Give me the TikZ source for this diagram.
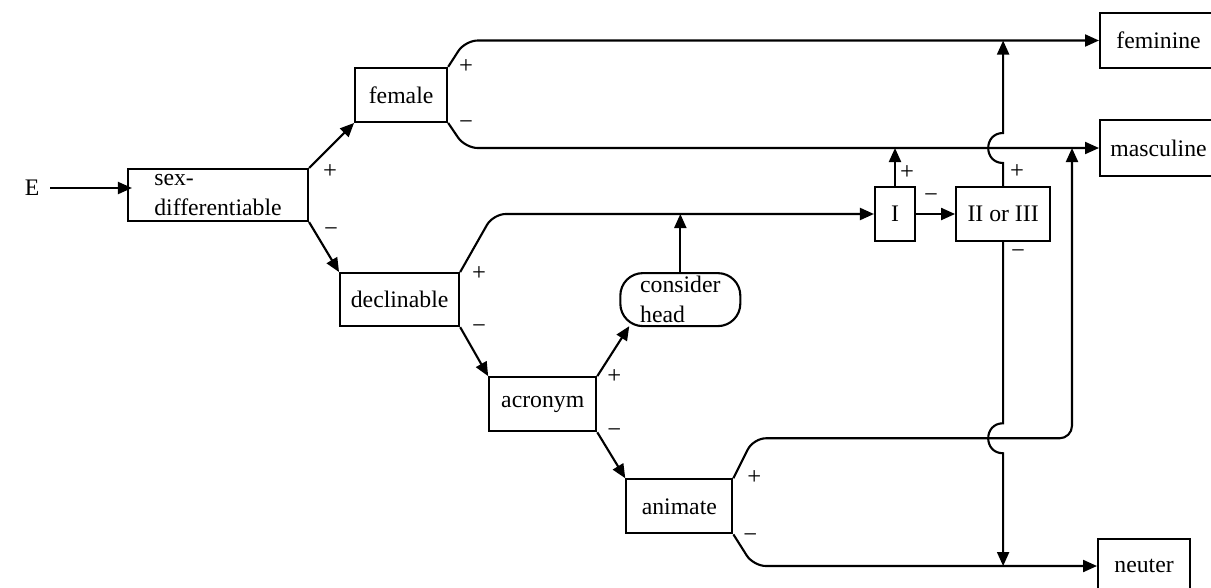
\documentclass[tikz,border=0pt]{standalone}
\usepackage{fontspec}
\setmainfont{Liberation Serif}
\usetikzlibrary{arrows.meta}
\usetikzlibrary{positioning}
\tikzstyle{rect} = [rectangle,
inner sep=0pt,
line width=1.2pt,
text centered,
font=\fontsize{13.5}{17}\selectfont,
draw=black]
\tikzstyle{rrect} = [rect,
rounded corners=0.45cm]
\tikzstyle{arrow} = [line width=1.2pt,->,>={Triangle[length=0.28cm,width=0.24cm]}]
\tikzstyle{line} = [line width=1.2pt]
\tikzstyle{sign} = [inner sep=0pt, font=\fontsize{14}{16}\selectfont]

\begin{document}
\begin{tikzpicture}[]

\useasboundingbox (0,0) rectangle (24.22,-11.74);

\node (e) [font=\fontsize{13.5}{17}\selectfont] at (0.64,-3.76) {E};

\node (sex_diff) [rect, align=left, minimum width=3.6cm, minimum height=1.04cm] at (4.36,-3.90) {
  sex-\\differentiable
};

\node (female) [rect, minimum width=1.84cm, minimum height=1.08cm, above right=0.9cm and 0.9cm of sex_diff] {female};

\node (declinable) [rect, minimum width=2.38cm, minimum height=1.06cm, below right=1.0cm and 0.6cm of sex_diff] {declinable};

\node (acronym) [rect, minimum width=2.14cm, minimum height=1.08cm, below right=0.98cm and 0.56cm of declinable] {acronym};

\node (animate) [rect, minimum width=2.12cm, minimum height=1.08cm, below right=0.92cm and 0.56cm of acronym] {animate};

\node (consider_head) [rrect, align=left, minimum width=2.4cm, minimum height=1.06cm, above right=0.98cm and 0.44cm of acronym] {
  consider\\head
};

\node (class_i) [rect, minimum width=0.8cm, minimum height=1.08cm] at (17.9,-4.28) {I};

\node (class_ii_iii) [rect, minimum width=1.88cm, minimum height=1.08cm, right=0.78cm of class_i] {II or III};

\node (feminine) [rect, anchor=west, minimum width=2.34cm, minimum height=1.1cm] at (21.98,-0.81) {feminine};

\node (masculine) [rect, anchor=west, minimum width=2.34cm, minimum height=1.12cm] at (21.98,-2.96) {masculine};

\node (neuter) [rect, anchor=west, minimum width=1.84cm, minimum height=1.08cm] at (21.94,-11.32) {neuter};

\coordinate (anim_up) at ([shift={(0.4cm,0.8cm)}]animate.north east);
\coordinate (masc_rise) at ([xshift=-0.54cm]masculine.west);

% branches
\draw [arrow] ([xshift=0.1cm]e.east) -- ([xshift=0.1cm]e.east -| sex_diff.west);
\draw [arrow] (sex_diff.north east) -- (female.south west);
\draw [arrow] (sex_diff.south east) -- (declinable.north west);
\draw [arrow] (declinable.south east) -- (acronym.north west);
\draw [arrow] (acronym.south east) -- (animate.north west);
\draw [arrow] (acronym.north east) -- ([shift={(0.2cm,0.02cm)}]consider_head.south west);

\draw [arrow, rounded corners=0.25cm] (female.north east) -- ([xshift=0.34cm]female.north east |- feminine.west) -- (feminine.west);
\draw [arrow, rounded corners=0.25cm] (female.south east) -- ([xshift=0.34cm]female.south east |- masculine.west) -- (masculine.west);
\draw [arrow, rounded corners=0.25cm] (declinable.north east) -- ([xshift=0.66cm]declinable.north east |- class_i.west) -- (class_i.west);
\draw [arrow] (consider_head.north) -- (consider_head.north |- class_i.west);
\draw [arrow] (class_i.north) -- (class_i.north |- masculine.west);
\draw [arrow] (class_i.east) -- (class_ii_iii.west);
\draw [arrow, rounded corners=0.25cm] (animate.north east) -- (anim_up) -- (anim_up -| masc_rise) -- (masc_rise);
\draw [arrow, rounded corners=0.25cm] (animate.south east) -- ([xshift=0.4cm]animate.south east |- neuter.west) -- (neuter.west);

% lines with hops
\draw [arrow] (class_ii_iii.north) -- ([yshift=-0.3cm]class_ii_iii.north |- masculine.west)
  to[out=180, in=180, looseness=1.7] ([yshift=0.3cm]class_ii_iii.north |- masculine.west)
  -- (class_ii_iii.north |- feminine.west);
\draw [arrow] (class_ii_iii.south) -- ([yshift=0.3cm]class_ii_iii.south |- anim_up)
  to[out=180, in=180, looseness=1.7] ([yshift=-0.3cm]class_ii_iii.south |- anim_up)
  -- (class_ii_iii.south |- neuter.west);

% signs
\node (sd_plus) [sign] at ([shift={(0.42cm,-0.08cm)}]sex_diff.north east) {+};
\node (sd_minus) [sign] at ([shift={(0.44cm,-0.2cm)}]sex_diff.south east) {−};
\node (fe_plus) [sign] at ([shift={(0.36cm,0cm)}]female.north east) {+};
\node (fe_minus) [sign] at ([shift={(0.36cm,-0.04cm)}]female.south east) {−};
\node (de_plus) [sign] at ([shift={(0.38cm,-0.02cm)}]declinable.north east) {+};
\node (de_minus) [sign] at ([shift={(0.38cm,-0.04cm)}]declinable.south east) {−};
\node (ac_plus) [sign] at ([shift={(0.34cm,0cm)}]acronym.north east) {+};
\node (ac_minus) [sign] at ([shift={(0.34cm,-0.02cm)}]acronym.south east) {−};
\node (an_plus) [sign] at ([shift={(0.42cm,0.02cm)}]animate.north east) {+};
\node (an_minus) [sign] at ([shift={(0.34cm,-0.08cm)}]animate.south east) {−};
\node (i_plus) [sign] at ([shift={(0.24cm,0.26cm)}]class_i.north) {+};
\node (i_minus) [sign] at ([shift={(0.3cm,0.32cm)}]class_i.east) {−};
\node (iii_plus) [sign] at ([shift={(0.28cm,0.28cm)}]class_ii_iii.north) {+};
\node (iii_minus) [sign] at ([shift={(0.3cm,-0.24cm)}]class_ii_iii.south) {−};

\end{tikzpicture}
\end{document}
